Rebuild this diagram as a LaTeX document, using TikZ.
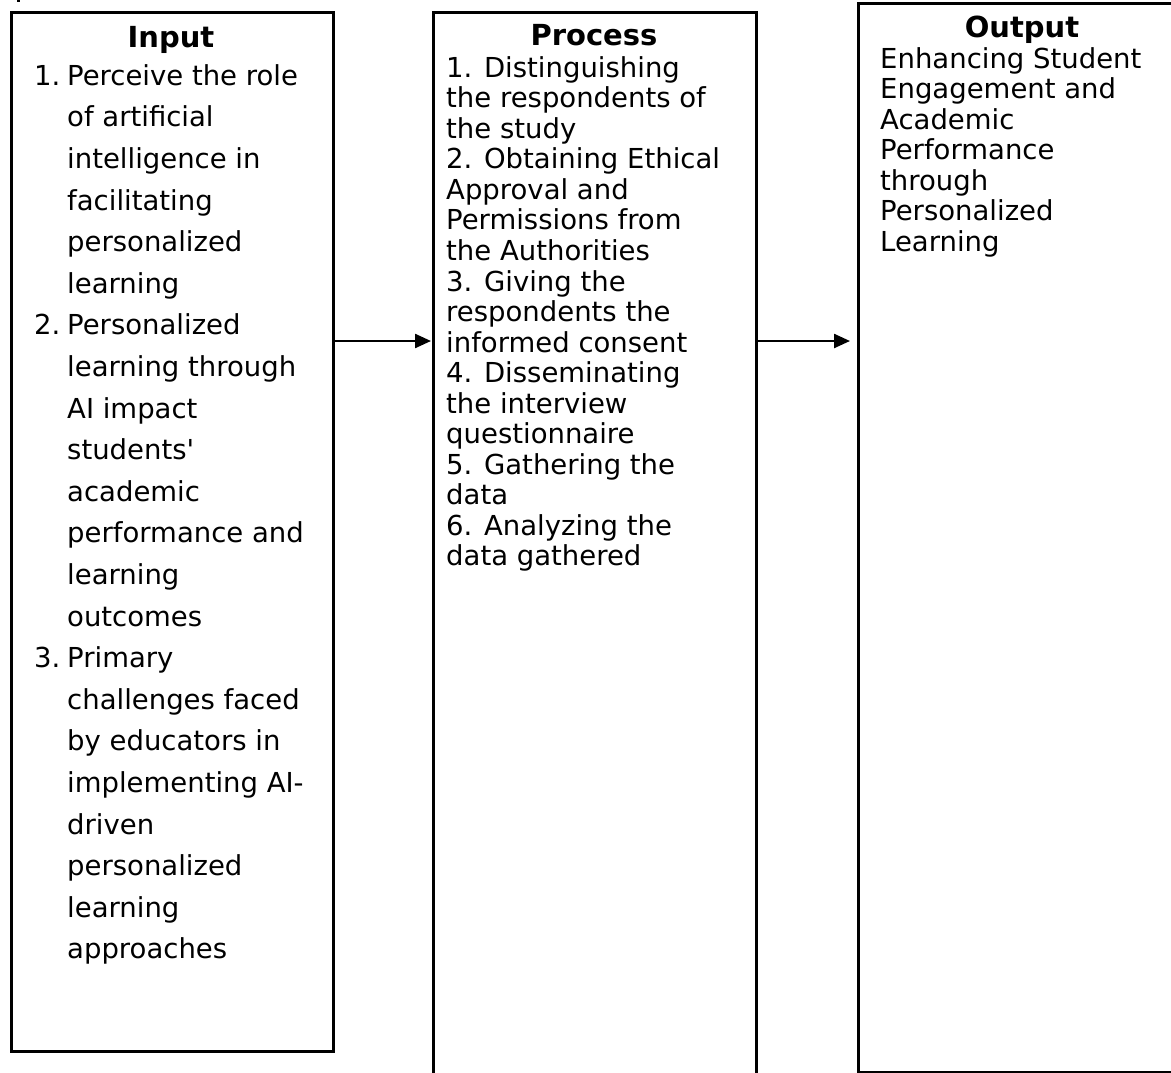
\documentclass[tikz,border=0pt]{standalone}
\usepackage{fontspec}
\setmainfont{DejaVu Sans}
% same face without the TeX quote mapping, for a straight apostrophe
\newfontfamily\straightfont{DejaVu Sans}
\usetikzlibrary{arrows.meta}
% hanging-indent helpers for the numbered input list
\newcommand\itemnum[1]{\makebox[33pt][l]{#1}}
\newcommand\itemind{\hspace*{33pt}}
\begin{document}
\begin{tikzpicture}[x=1pt,y=-1pt,
  frame/.style={draw, line width=2.6pt, rectangle, inner sep=0pt, anchor=north west},
  title/.style={font={\fontsize{29}{30}\selectfont\bfseries}, inner sep=0pt, anchor=base},
  listtext/.style={align=left, inner sep=0pt, anchor=north west},
  loose/.style={font={\fontsize{27.5}{41.6}\selectfont}},
  tight/.style={font={\fontsize{27.5}{30.55}\selectfont}},
  flow/.style={line width=2.4pt, -{Triangle[length=16pt,width=14pt]}}]
\useasboundingbox (0,0) rectangle (1171,1073);
\clip (0,0) rectangle (1171,1073);

% small mark at the top edge
\fill (17,0) rectangle (20,2);

% the three frames
\node[frame, minimum width=322pt, minimum height=1039pt] (inp) at (10,11) {};
\node[frame, minimum width=323pt, minimum height=1090pt] (proc) at (432,11) {};
\node[frame, minimum width=340pt, minimum height=1069pt] (outp) at (857,2) {};

% titles
\node[title] (inpt) at (171,48) {Input};
\node[title] (proct) at (594,46) {Process};
\node[title] (outpt) at (1022,38) {Output};

% input list
\node[listtext, loose] (inpl) at (34,55.9) {%
\strut\itemnum{1.}Perceive the role\\
\itemind of artificial\\
\itemind intelligence in\\
\itemind facilitating\\
\itemind personalized\\
\itemind learning\\
\itemnum{2.}Personalized\\
\itemind learning through\\
\itemind AI impact\\
\itemind students{\straightfont'}\\
\itemind academic\\
\itemind performance and\\
\itemind learning\\
\itemind outcomes\\
\itemnum{3.}Primary\\
\itemind challenges faced\\
\itemind by educators in\\
\itemind implementing AI-\\
\itemind driven\\
\itemind personalized\\
\itemind learning\\
\itemind approaches};

% process steps
\node[listtext, tight] (procl) at (446,55.6) {%
\strut 1. Distinguishing\\
the respondents of\\
the study\\
2. Obtaining Ethical\\
Approval and\\
Permissions from\\
the Authorities\\
3. Giving the\\
respondents the\\
informed consent\\
4. Disseminating\\
the interview\\
questionnaire\\
5. Gathering the\\
data\\
6. Analyzing the\\
data gathered};

% output text
\node[listtext, tight] (outpl) at (880,46.6) {%
\strut Enhancing Student\\
Engagement and\\
Academic\\
Performance\\
through\\
Personalized\\
Learning};

% flow arrows
\coordinate (lvl) at (0,341);
\draw[flow, shorten >=1pt] (inp.east |- lvl) -- (proc.west |- lvl);
\draw[flow, shorten >=7pt] (proc.east |- lvl) -- (outp.west |- lvl);
\end{tikzpicture}
\end{document}
